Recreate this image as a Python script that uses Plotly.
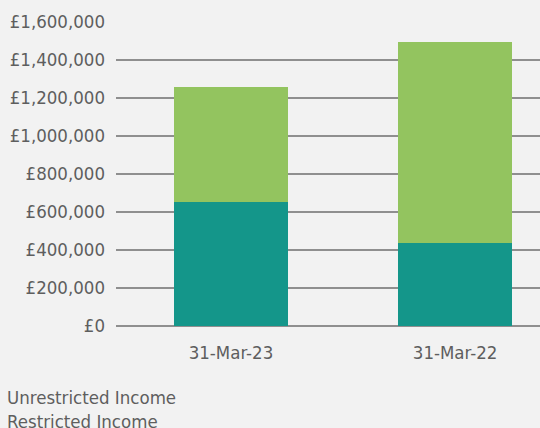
import plotly.graph_objects as go

categories = ["31-Mar-23", "31-Mar-22"]
unrestricted_income = [652000, 437000]
restricted_income = [608000, 1058000]
series_names = ["Unrestricted Income", "Restricted Income"]
tick_values = [0, 200000, 400000, 600000, 800000, 1000000, 1200000, 1400000, 1600000]
tick_labels = ["£0", "£200,000", "£400,000", "£600,000", "£800,000",
               "£1,000,000", "£1,200,000", "£1,400,000", "£1,600,000"]

colors = ["#14968A", "#93C45F"]
font_family = "DejaVu Sans Condensed"
font_size = 18.5
text_color = "#5E5E5E"

fig = go.Figure()
fig.add_trace(go.Bar(x=categories, y=unrestricted_income, name=series_names[0],
                     marker=dict(color=colors[0], line=dict(width=0)), width=0.509))
fig.add_trace(go.Bar(x=categories, y=restricted_income, name=series_names[1],
                     marker=dict(color=colors[1], line=dict(width=0)), width=0.509))

W, H = 540, 428
L, R, T, B = 116, 0, 22, 102
pw, ph = W - L - R, H - T - B

legend_ys = [397, 421]
for name, yy in zip(series_names, legend_ys):
    fig.add_annotation(text=name, xref="paper", yref="paper",
                       x=(5 - L) / pw, y=(H - B - yy) / ph,
                       xanchor="left", yanchor="middle", showarrow=False,
                       font=dict(family=font_family, size=font_size, color=text_color))

fig.update_layout(
    barmode="stack",
    width=W, height=H,
    margin=dict(l=L, r=R, t=T, b=B, pad=0),
    paper_bgcolor="#F2F2F2",
    plot_bgcolor="#F2F2F2",
    showlegend=False,
    bargap=0,
    font=dict(family=font_family, size=font_size, color=text_color),
    xaxis=dict(range=[-0.513, 1.379], showgrid=False, zeroline=False,
               showline=False, ticks="", ticklabelstandoff=13,
               tickfont=dict(family=font_family, size=font_size, color=text_color)),
    yaxis=dict(range=[0, 1600000], tickvals=tick_values, ticktext=tick_labels,
               showgrid=True, gridcolor="#8F8F8F", gridwidth=1.5,
               zeroline=True, zerolinecolor="#8F8F8F", zerolinewidth=1.5,
               showline=False, ticks="", ticklabelstandoff=10,
               tickfont=dict(family=font_family, size=font_size, color=text_color)),
)

fig.write_html("out.html", config={"displayModeBar": False},
               post_script="document.body.style.margin='0px';")
